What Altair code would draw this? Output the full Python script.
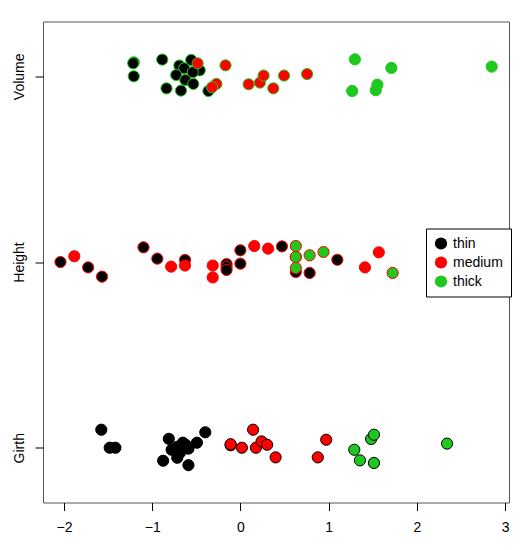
import altair as alt
import pandas as pd

# variables (rows, bottom to top) and tree groups
variables = ["Girth", "Height", "Volume"]
group_names = ["thin", "medium", "thick"]
groups = ["thin"] * 15 + ["medium"] * 10 + ["thick"] * 6

# standardized values per tree (x position)
girth = [-1.577, -1.482, -1.417, -0.876, -0.812, -0.780, -0.716, -0.716, -0.685, -0.653,
         -0.621, -0.589, -0.589, -0.493, -0.398, -0.111, -0.111, 0.017, 0.144, 0.176,
         0.240, 0.303, 0.399, 0.877, 0.973, 1.291, 1.355, 1.482, 1.514, 1.514, 2.343]
height = [-0.942, -1.726, -2.040, -0.628, 0.785, 1.099, -1.569, -0.157, 0.628, -0.157,
          0.471, 0.000, 0.000, -1.099, -0.157, -0.314, 1.412, 1.569, -0.785, -1.883,
          0.314, 0.628, -0.314, -0.628, 0.157, 0.785, 0.942, 0.628, 0.628, 0.628, 1.726]
volume = [-1.209, -1.209, -1.215, -0.838, -0.692, -0.637, -0.886, -0.728, -0.461, -0.625,
          -0.363, -0.558, -0.534, -0.540, -0.674, -0.485, 0.221, -0.169, -0.272, -0.321,
          0.263, 0.093, 0.373, 0.495, 0.756, 1.535, 1.553, 1.711, 1.298, 1.267, 2.849]

# vertical jitter (in row units)
girth_jit = [0.097, 0.000, 0.000, -0.070, 0.048, -0.011, -0.054, 0.005, -0.027, 0.027,
             0.016, -0.094, -0.005, 0.027, 0.083, 0.013, 0.019, 0.000, 0.097, 0.000,
             0.034, 0.016, -0.052, -0.052, 0.043, -0.011, -0.068, 0.047, 0.070, -0.082, 0.022]
height_jit = [0.018, -0.029, 0.000, 0.011, -0.059, 0.012, -0.079, -0.011, -0.054, -0.027,
              0.084, 0.063, -0.009, 0.079, -0.043, -0.019, -0.029, 0.052, -0.025, 0.031,
              0.072, 0.027, -0.083, -0.019, 0.086, 0.036, 0.054, 0.086, 0.027, -0.032, -0.059]
volume_jit = [0.075, 0.000, 0.070, -0.065, 0.058, 0.043, 0.090, 0.007, 0.032, -0.020,
              -0.079, 0.088, -0.041, 0.022, -0.077, 0.070, -0.034, 0.059, -0.041, -0.059,
              0.004, -0.043, -0.065, 0.004, 0.012, -0.075, -0.045, 0.045, 0.091, -0.079, 0.052]

x_ticks = [-2, -1, 0, 1, 2, 3]
fill_colors = ["black", "#FF0000", "#1EC81E"]
stroke_colors = ["black", "#FF0000", "#1EC81E"]

rows = []
for k, (name, vals, jit) in enumerate(zip(variables, [girth, height, volume],
                                          [girth_jit, height_jit, volume_jit])):
    for v, j, g in zip(vals, jit, groups):
        rows.append({"variable": name, "value": v, "pos": k + 1 + j, "group": g})
df = pd.DataFrame(rows)
df["order"] = range(len(df))

label_expr = " : ".join(
    [f"datum.value == {i + 1} ? '{n}'" for i, n in enumerate(variables)]) + " : ''"

FONT = "Liberation Sans"

chart = alt.Chart(df).mark_point(
    filled=True, shape="circle", size=125, strokeWidth=1, opacity=1
).encode(
    x=alt.X("value:Q",
            scale=alt.Scale(domain=[-2.238, 3.045], nice=False, zero=False),
            axis=alt.Axis(values=x_ticks, title=None, grid=False, domain=False,
                          tickSize=8, tickColor="black", labelFontSize=14,
                          labelFont=FONT, labelColor="black", labelPadding=10,
                          format="d")),
    y=alt.Y("pos:Q",
            scale=alt.Scale(domain=[0.705, 3.295], nice=False, zero=False),
            axis=alt.Axis(values=[1, 2, 3], title=None, grid=False, domain=False,
                          tickSize=8, tickColor="black", labelFontSize=14,
                          labelFont=FONT, labelColor="black", labelAngle=270,
                          labelAlign="center", labelBaseline="bottom",
                          labelPadding=9, labelExpr=label_expr)),
    fill=alt.Fill("group:N",
                  scale=alt.Scale(domain=group_names, range=fill_colors),
                  legend=alt.Legend(title=None, orient="none", legendX=383, legendY=207,
                                    strokeColor="black", fillColor="white", padding=8,
                                    symbolType="circle", symbolSize=150,
                                    symbolStrokeWidth=0, labelFontSize=14,
                                    labelFont=FONT, labelColor="black",
                                    rowPadding=5, labelOffset=5)),
    stroke=alt.Stroke("variable:N",
                      scale=alt.Scale(domain=variables, range=stroke_colors),
                      legend=None),
    order=alt.Order("order:Q"),
).properties(
    width=466, height=481,
    autosize=alt.AutoSizeParams(type="none"),
    padding={"left": 35, "top": 13.5, "right": 10, "bottom": 40},
).configure_view(
    stroke="#555", strokeWidth=1
)

chart.save("out.html", embed_options={"renderer": "svg", "actions": False})
